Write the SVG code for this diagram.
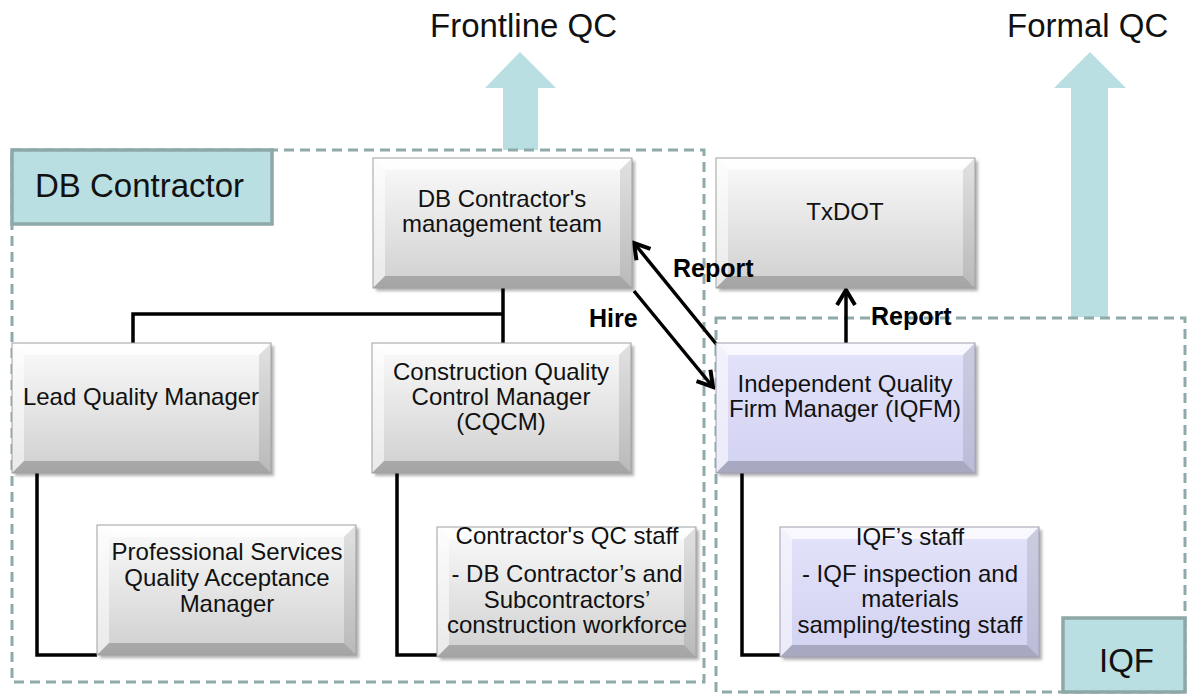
<svg xmlns="http://www.w3.org/2000/svg" xmlns:xlink="http://www.w3.org/1999/xlink" width="1187" height="695" viewBox="0 0 1187 695">
<style>
.dash{fill:none;stroke:#8faaaa;stroke-width:3;stroke-dasharray:10 6}
.lbl{fill:#b9dfe3;stroke:#8ea8a8;stroke-width:3.5}
.big{fill:#b9dfe3}
.title{font-family:"Liberation Sans",Arial,sans-serif;font-size:33px;fill:#111}
.nt{font-family:"Liberation Sans",Arial,sans-serif;font-size:24px;fill:#111;text-anchor:middle}
.bl{font-family:"Liberation Sans",Arial,sans-serif;font-size:25px;font-weight:bold;fill:#000}
.con{fill:none;stroke:#000;stroke-width:3.5}
</style>
<defs>
<linearGradient id="gGray" x1="0" y1="0" x2="0" y2="1">
<stop offset="0" stop-color="#fbfbfb"/><stop offset="1" stop-color="#cfcfcf"/>
</linearGradient>
<linearGradient id="gLav" x1="0" y1="0" x2="0" y2="1">
<stop offset="0" stop-color="#e3e3fa"/><stop offset="1" stop-color="#d2d2f2"/>
</linearGradient>
<filter id="sh" x="-10%" y="-10%" width="130%" height="130%">
<feGaussianBlur stdDeviation="1.5"/>
</filter>
<g id="bevel">
<polygon points="0,0 259,0 247,12 12,12" fill="#fff" fill-opacity="0.75"/>
<polygon points="0,0 12,12 12,118 0,130" fill="#fff" fill-opacity="0.55"/>
<polygon points="259,0 259,130 247,118 247,12" fill="#000" fill-opacity="0.1"/>
<polygon points="0,130 12,118 247,118 259,130" fill="#000" fill-opacity="0.2"/>
</g>
<g id="boxGray">
<rect x="3" y="3" width="259" height="130" fill="#000" fill-opacity="0.3" filter="url(#sh)"/>
<rect x="0" y="0" width="259" height="130" fill="url(#gGray)"/>
<use xlink:href="#bevel"/>
<rect x="0" y="0" width="259" height="130" fill="none" stroke="#a0a0a0" stroke-width="1"/>
</g>
<g id="boxLav">
<rect x="3" y="3" width="259" height="130" fill="#000" fill-opacity="0.3" filter="url(#sh)"/>
<rect x="0" y="0" width="259" height="130" fill="url(#gLav)"/>
<use xlink:href="#bevel"/>
<rect x="0" y="0" width="259" height="130" fill="none" stroke="#a0a0b0" stroke-width="1"/>
</g>
<marker id="arr" viewBox="0 0 22 22" refX="19" refY="11" markerWidth="22" markerHeight="22" markerUnits="userSpaceOnUse" orient="auto">
<path d="M4,2 L19,11 L4,20" fill="none" stroke="#000" stroke-width="4"/>
</marker>
</defs>

<g id="qc-arrows">
<polygon class="big" points="520,52 556,88 538,88 538,150 503,150 503,88 485,88"/>
<polygon class="big" points="1090,52 1126,88 1108,88 1108,317 1071,317 1071,88 1054,88"/>
<text class="title" x="430" y="37">Frontline QC</text>
<text class="title" x="1007" y="37">Formal QC</text>
</g>

<g id="group-db">
<rect class="dash" x="12" y="150" width="692" height="532"/>
<rect class="lbl" x="12" y="150" width="260" height="74"/>
<text class="title" x="35" y="197">DB Contractor</text>
</g>
<g id="group-iqf">
<rect class="dash" x="716" y="318" width="469" height="374"/>
<rect class="lbl" x="1063" y="618" width="122" height="74"/>
<text class="title" x="1099" y="672">IQF</text>
</g>

<g id="connectors">
<path class="con" d="M503,288 V343 M133,343 V314 H503"/>
<path class="con" d="M37,473 V655 H97"/>
<path class="con" d="M397,473 V655 H437"/>
<path class="con" d="M742,473 V655 H780"/>
<line class="con" x1="634" y1="291" x2="713" y2="387" marker-end="url(#arr)"/>
<line class="con" x1="717" y1="345" x2="634" y2="243" marker-end="url(#arr)"/>
<line class="con" x1="846" y1="343" x2="846" y2="290" marker-end="url(#arr)"/>
</g>

<g id="node-mgmt">
<use xlink:href="#boxGray" x="373" y="158"/>
<text class="nt" x="502" y="207">DB Contractor's</text>
<text class="nt" x="502" y="232">management team</text>
</g>
<g id="node-txdot">
<use xlink:href="#boxGray" x="716" y="158"/>
<text class="nt" x="845" y="220">TxDOT</text>
</g>
<g id="node-lqm">
<use xlink:href="#boxGray" x="12" y="343"/>
<text class="nt" x="141" y="405">Lead Quality Manager</text>
</g>
<g id="node-cqcm">
<use xlink:href="#boxGray" x="372" y="343"/>
<text class="nt" x="501" y="380">Construction Quality</text>
<text class="nt" x="501" y="405">Control Manager</text>
<text class="nt" x="501" y="430">(CQCM)</text>
</g>
<g id="node-iqfm">
<use xlink:href="#boxLav" x="716" y="343"/>
<text class="nt" x="845" y="392">Independent Quality</text>
<text class="nt" x="845" y="417">Firm Manager (IQFM)</text>
</g>
<g id="node-psqam">
<use xlink:href="#boxGray" x="97" y="525"/>
<text class="nt" x="227" y="560">Professional Services</text>
<text class="nt" x="227" y="586">Quality Acceptance</text>
<text class="nt" x="227" y="612">Manager</text>
</g>
<g id="node-cqcstaff">
<use xlink:href="#boxGray" x="437" y="527"/>
<text class="nt" x="567" y="544">Contractor's QC staff</text>
<text class="nt" x="567" y="582">- DB Contractor’s and</text>
<text class="nt" x="567" y="608">Subcontractors’</text>
<text class="nt" x="567" y="633">construction workforce</text>
</g>
<g id="node-iqfstaff">
<use xlink:href="#boxLav" x="780" y="527"/>
<text class="nt" x="910" y="545">IQF’s staff</text>
<text class="nt" x="910" y="582">- IQF inspection and</text>
<text class="nt" x="910" y="607">materials</text>
<text class="nt" x="910" y="633">sampling/testing staff</text>
</g>

<g id="connector-labels">
<text class="bl" x="673" y="277">Report</text>
<text class="bl" x="589" y="327">Hire</text>
<text class="bl" x="871" y="325">Report</text>
</g>
</svg>
